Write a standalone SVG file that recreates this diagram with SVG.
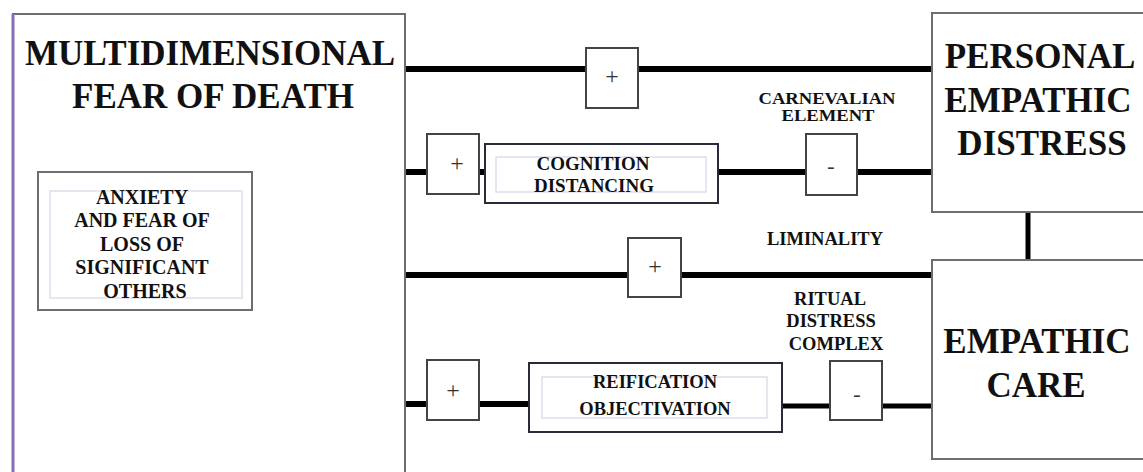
<svg xmlns="http://www.w3.org/2000/svg" width="1143" height="472" viewBox="0 0 1143 472">
<style>
.bg{fill:#ffffff}
.box{fill:#ffffff;stroke:#6e6e6e;stroke-width:2}
.sign{fill:#ffffff;stroke:#444;stroke-width:2}
.proc{fill:#ffffff;stroke:#2a2a3a;stroke-width:2}
.inner{fill:none;stroke:#dcdfea;stroke-width:1.5}
.big{font-family:"Liberation Serif","Times New Roman",serif;font-weight:bold;font-size:35px;fill:#111;text-anchor:middle}
.small{font-family:"Liberation Serif","Times New Roman",serif;font-weight:bold;font-size:18.5px;fill:#111;text-anchor:middle}
.anx{font-size:20px}
.sym{font-family:"Liberation Serif","Times New Roman",serif;font-size:24px;fill:#333;text-anchor:middle}
.minus{font-size:22px}
.wire{stroke:#000;stroke-width:6;fill:none}
.wire2{stroke:#000;stroke-width:5;fill:none}
</style>
<rect class="bg" x="0" y="0" width="1143" height="472"/>

<g id="connectors">
<line class="wire" x1="404" y1="69" x2="932" y2="69"/>
<line class="wire" x1="404" y1="172" x2="932" y2="172"/>
<line class="wire" x1="404" y1="275" x2="932" y2="275"/>
<line class="wire" x1="404" y1="404" x2="530" y2="404"/>
<line class="wire2" x1="781" y1="406" x2="932" y2="406"/>
<line class="wire2" x1="1028" y1="212" x2="1028" y2="261"/>
</g>

<g id="fear-of-death">
<rect class="box" x="13" y="14" width="392" height="470"/>
<line x1="13" y1="14" x2="13" y2="472" stroke="#8a6fb8" stroke-width="3"/>
<text class="big" x="210" y="65">MULTIDIMENSIONAL</text>
<text class="big" x="213" y="108">FEAR OF DEATH</text>
</g>

<g id="anxiety">
<rect class="box" x="38" y="172" width="214" height="138" stroke="#777"/>
<rect class="inner" x="50" y="191" width="192" height="107"/>
<text class="small anx" x="142" y="204">ANXIETY</text>
<text class="small anx" x="142" y="227">AND FEAR OF</text>
<text class="small anx" x="142" y="251">LOSS OF</text>
<text class="small anx" x="142" y="274">SIGNIFICANT</text>
<text class="small anx" x="145" y="298">OTHERS</text>
</g>

<g id="plus1">
<rect class="sign" x="586" y="48" width="52" height="60"/>
<text class="sym" x="612" y="84">+</text>
</g>

<g id="plus2">
<rect class="sign" x="427" y="134" width="52" height="60"/>
<text class="sym" x="457" y="171">+</text>
</g>

<g id="cognition">
<rect class="proc" x="485" y="144" width="233" height="59"/>
<rect class="inner" x="496" y="157" width="210" height="35"/>
<text class="small" x="593" y="170" style="font-size:19px">COGNITION</text>
<text class="small" x="594" y="192" style="font-size:19px">DISTANCING</text>
</g>

<g id="carnevalian">
<text class="small" x="827" y="104" style="font-size:17px" textLength="137" lengthAdjust="spacingAndGlyphs">CARNEVALIAN</text>
<text class="small" x="828" y="121" style="font-size:17px" textLength="93" lengthAdjust="spacingAndGlyphs">ELEMENT</text>
</g>

<g id="minus1">
<rect class="sign" x="806" y="134" width="51" height="61"/>
<text class="sym minus" x="831" y="173">-</text>
</g>

<g id="liminality">
<text class="small" x="825" y="245">LIMINALITY</text>
</g>

<g id="plus3">
<rect class="sign" x="628" y="238" width="53" height="59"/>
<text class="sym" x="655" y="274">+</text>
</g>

<g id="ritual">
<text class="small" x="830" y="305">RITUAL</text>
<text class="small" x="831" y="327">DISTRESS</text>
<text class="small" x="836" y="350">COMPLEX</text>
</g>

<g id="plus4">
<rect class="sign" x="427" y="360" width="52" height="60"/>
<text class="sym" x="453" y="398">+</text>
</g>

<g id="reification">
<rect class="proc" x="529" y="363" width="253" height="69" stroke="#262a45"/>
<rect class="inner" x="542" y="377" width="225" height="41"/>
<text class="small" x="655" y="388">REIFICATION</text>
<text class="small" x="655" y="415">OBJECTIVATION</text>
</g>

<g id="minus2">
<rect class="sign" x="830" y="361" width="52" height="59"/>
<text class="sym minus" x="857" y="401">-</text>
</g>

<g id="personal-distress">
<rect class="box" x="932" y="13" width="220" height="199"/>
<text class="big" x="1040" y="68">PERSONAL</text>
<text class="big" x="1038" y="112">EMPATHIC</text>
<text class="big" x="1042" y="155">DISTRESS</text>
</g>

<g id="empathic-care">
<rect class="box" x="932" y="260" width="220" height="199"/>
<text class="big" x="1037" y="353">EMPATHIC</text>
<text class="big" x="1036" y="397">CARE</text>
</g>
</svg>
